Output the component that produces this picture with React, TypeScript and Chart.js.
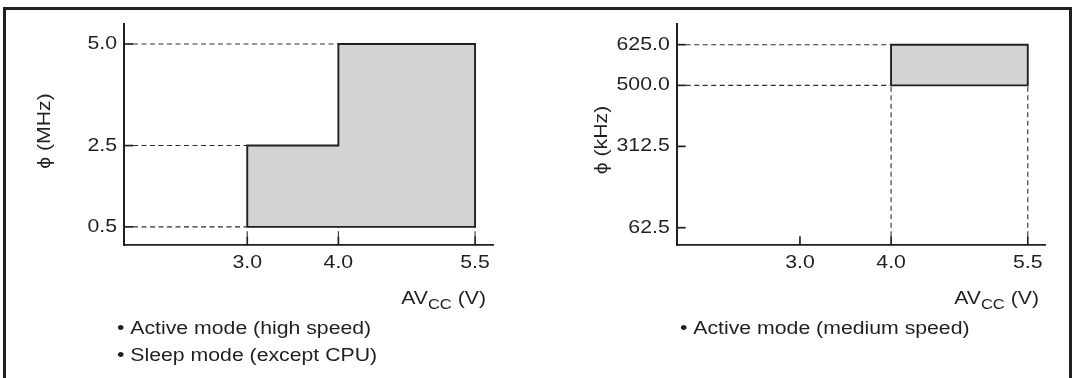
import React, { useEffect, useRef } from 'react';
import { Chart, registerables } from 'chart.js';

Chart.register(...registerables);

// ---- data ----
const voltageTicks = [3.0, 4.0, 5.5];
const highSpeedFreqTicks = [0.5, 2.5, 5.0];
const highSpeedVoltage = [3.0, 3.0, 4.0, 4.0, 5.5, 5.5, 3.0];
const highSpeedFreq = [0.5, 2.5, 2.5, 5.0, 5.0, 0.5, 0.5];
const mediumSpeedFreqTicks = [62.5, 312.5, 500.0, 625.0];
const mediumSpeedVoltage = [4.0, 4.0, 5.5, 5.5, 4.0];
const mediumSpeedFreq = [500.0, 625.0, 625.0, 500.0, 500.0];
const highSpeedNotes = ['Active mode (high speed)', 'Sleep mode (except CPU)'];
const mediumSpeedNotes = ['Active mode (medium speed)'];

// ---- style ----
const INK = '#231f20';
const GUIDE = '#2e2e2e';
const FILL = '#d1d3d4';
const FONT = "'Liberation Sans', Arial, Helvetica, sans-serif";
const FONT_SIZE = 18;
const SUB_SIZE = 14;
const STRETCH = 1.18;
const W = 1075;
const H = 378;

type PanelSpec = {
  left: number;
  width: number;
  voltage: number[];
  freq: number[];
  xTicks: number[];
  yTicks: number[];
  xMin: number;
  xMax: number;
  yMin: number;
  yMax: number;
  yAxisWidth: number;
  padRight: number;
  padTop: number;
  plotBottom: number;
  yTitle: string;
  yTitleX: number;
  yTitleY: number;
  xTitleRight: number;
  xTitleBaseline: number;
  notes: string[];
  notesX: number;
  notesBaselines: number[];
};

const stretchTextPlugin = {
  id: 'stretchText',
  beforeInit(chart: any) {
    const ctx = chart.ctx as any;
    if (ctx.__stretched) return;
    ctx.__stretched = true;
    const orig = ctx.fillText.bind(ctx);
    ctx.fillText = (text: string, x: number, y: number, maxWidth?: number) => {
      ctx.save();
      ctx.translate(x, y);
      ctx.scale(STRETCH, 1);
      if (maxWidth === undefined || maxWidth === null) orig(text, 0, 0);
      else orig(text, 0, 0, maxWidth / STRETCH);
      ctx.restore();
    };
  },
};

function makeGuides(spec: PanelSpec) {
  return {
    id: 'guides',
    beforeDatasetsDraw(chart: any) {
      const { ctx, chartArea: a } = chart;
      const xs = chart.scales.x;
      const ys = chart.scales.y;
      const seg = (x1: number, y1: number, x2: number, y2: number) => {
        ctx.beginPath();
        ctx.moveTo(x1, y1);
        ctx.lineTo(x2, y2);
        ctx.stroke();
      };
      const TICK = 9;
      ctx.save();
      // y ticks + horizontal guides
      spec.yTicks.forEach((v) => {
        const py = ys.getPixelForValue(v);
        ctx.setLineDash([]);
        ctx.lineWidth = 1.7;
        ctx.strokeStyle = INK;
        seg(a.left, py, a.left + TICK, py);
        const hits = spec.voltage.filter((_, i) => spec.freq[i] === v);
        if (hits.length) {
          const px = xs.getPixelForValue(Math.min(...hits));
          ctx.setLineDash([5, 3.5]);
          ctx.lineWidth = 1.1;
          ctx.strokeStyle = GUIDE;
          seg(a.left + TICK, py, px, py);
        }
      });
      // x ticks + vertical guides
      const vMin = Math.min(...spec.voltage);
      const vMax = Math.max(...spec.voltage);
      const fMin = Math.min(...spec.freq);
      spec.xTicks.forEach((v) => {
        const px = xs.getPixelForValue(v);
        ctx.setLineDash([]);
        ctx.lineWidth = 1.7;
        ctx.strokeStyle = INK;
        seg(px, a.bottom, px, a.bottom - TICK);
        if (v >= vMin && v <= vMax) {
          ctx.setLineDash([5, 3.5]);
          ctx.lineWidth = 1.1;
          ctx.strokeStyle = GUIDE;
          seg(px, a.bottom - TICK, px, ys.getPixelForValue(fMin));
        }
      });
      ctx.restore();
    },
  };
}

function makeAnnotations(spec: PanelSpec) {
  return {
    id: 'annotations',
    afterDraw(chart: any) {
      const ctx = chart.ctx;
      ctx.save();
      ctx.fillStyle = INK;
      // y title (rotated)
      ctx.save();
      ctx.font = `${FONT_SIZE}px ${FONT}`;
      ctx.translate(spec.yTitleX, spec.yTitleY);
      ctx.rotate(-Math.PI / 2);
      ctx.textAlign = 'center';
      ctx.textBaseline = 'middle';
      ctx.fillText(spec.yTitle, 0, 0);
      ctx.restore();
      // x title with subscript
      const parts: [string, number, number][] = [
        ['AV', FONT_SIZE, 0],
        ['CC', SUB_SIZE, 5],
        [' (V)', FONT_SIZE, 0],
      ];
      ctx.textAlign = 'left';
      ctx.textBaseline = 'alphabetic';
      const widths = parts.map(([t, s]) => {
        ctx.font = `${s}px ${FONT}`;
        return ctx.measureText(t).width * STRETCH;
      });
      let x = spec.xTitleRight - widths.reduce((p, c) => p + c, 0);
      parts.forEach(([t, s, dy], i) => {
        ctx.font = `${s}px ${FONT}`;
        ctx.fillText(t, x, spec.xTitleBaseline + dy);
        x += widths[i];
      });
      // notes
      ctx.font = `${FONT_SIZE}px ${FONT}`;
      spec.notes.forEach((n, i) => {
        ctx.fillText('\u2022 ' + n, spec.notesX, spec.notesBaselines[i]);
      });
      ctx.restore();
    },
  };
}

const tickFont = { family: FONT, size: FONT_SIZE };

function Panel({ spec }: { spec: PanelSpec }) {
  const ref = useRef<HTMLCanvasElement>(null);
  useEffect(() => {
    const canvas = ref.current;
    if (!canvas) return;
    const xAxisHeight = 34;
    const chart = new Chart(canvas, {
      type: 'scatter',
      data: {
        datasets: [
          {
            data: spec.voltage.map((v, i) => ({ x: v, y: spec.freq[i] })),
            showLine: true,
            fill: 'shape',
            backgroundColor: FILL,
            borderColor: INK,
            borderWidth: 1.9,
            borderJoinStyle: 'miter',
            pointRadius: 0,
            pointHoverRadius: 0,
            tension: 0,
          } as any,
        ],
      },
      options: {
        animation: false,
        responsive: false,
        events: [],
        layout: {
          padding: {
            left: 0,
            top: spec.padTop,
            right: spec.padRight,
            bottom: H - spec.plotBottom - xAxisHeight,
          },
        },
        plugins: {
          legend: { display: false },
          tooltip: { enabled: false },
        },
        scales: {
          x: {
            type: 'linear',
            position: 'bottom',
            min: spec.xMin,
            max: spec.xMax,
            afterBuildTicks: (s: any) => {
              s.ticks = spec.xTicks.map((v) => ({ value: v }));
            },
            afterFit: (s: any) => {
              s.height = xAxisHeight;
            },
            grid: { display: false, drawTicks: false },
            border: { display: true, color: INK, width: 1.8 },
            ticks: {
              padding: 7,
              color: INK,
              font: tickFont,
              maxRotation: 0,
              autoSkip: false,
              callback: (v: any) => Number(v).toFixed(1),
            },
          },
          y: {
            type: 'linear',
            min: spec.yMin,
            max: spec.yMax,
            afterBuildTicks: (s: any) => {
              s.ticks = spec.yTicks.map((v) => ({ value: v }));
            },
            afterFit: (s: any) => {
              s.width = spec.yAxisWidth;
            },
            grid: { display: false, drawTicks: false },
            border: { display: true, color: INK, width: 2 },
            ticks: {
              padding: 7,
              color: INK,
              font: tickFont,
              autoSkip: false,
              callback: (v: any) => Number(v).toFixed(1),
            },
          },
        },
      } as any,
      plugins: [stretchTextPlugin, makeGuides(spec), makeAnnotations(spec)] as any,
    });
    return () => chart.destroy();
  }, [spec]);
  return (
    <canvas
      ref={ref}
      width={spec.width}
      height={H}
      style={{ position: 'absolute', left: spec.left, top: 0, width: spec.width, height: H }}
    />
  );
}

const leftSpec: PanelSpec = {
  left: 0,
  width: 537,
  voltage: highSpeedVoltage,
  freq: highSpeedFreq,
  xTicks: voltageTicks,
  yTicks: highSpeedFreqTicks,
  xMin: 1.6475,
  xMax: 5.7,
  yMin: 0.0455,
  yMax: 5.492,
  yAxisWidth: 124,
  padRight: 537 - 493.3,
  padTop: 24,
  plotBottom: 245.3,
  yTitle: '\u03D5 (MHz)',
  yTitleX: 45,
  yTitleY: 131,
  xTitleRight: 486,
  xTitleBaseline: 304,
  notes: highSpeedNotes,
  notesX: 117,
  notesBaselines: [334, 361],
};

const rightSpec: PanelSpec = {
  left: 537,
  width: 538,
  voltage: mediumSpeedVoltage,
  freq: mediumSpeedFreq,
  xTicks: voltageTicks,
  yTicks: mediumSpeedFreqTicks,
  xMin: 1.6475,
  xMax: 5.689,
  yMin: 8.4,
  yMax: 688.6,
  yAxisWidth: 676.7 - 537,
  padRight: 538 - (1045 - 537),
  padTop: 24,
  plotBottom: 245.3,
  yTitle: '\u03D5 (kHz)',
  yTitleX: 602 - 537,
  yTitleY: 140,
  xTitleRight: 1039 - 537,
  xTitleBaseline: 304,
  notes: mediumSpeedNotes,
  notesX: 680 - 537,
  notesBaselines: [334],
};

export default function App() {
  return (
    <div
      style={{
        position: 'absolute',
        left: 0,
        top: 0,
        width: W,
        height: H,
        overflow: 'hidden',
        background: '#ffffff',
      }}
    >
      <Panel spec={leftSpec} />
      <Panel spec={rightSpec} />
      <div
        style={{
          position: 'absolute',
          left: 3,
          top: 7,
          width: 1069,
          height: 400,
          boxSizing: 'border-box',
          borderLeft: `3px solid ${INK}`,
          borderTop: `3px solid ${INK}`,
          borderRight: `3px solid ${INK}`,
          pointerEvents: 'none',
        }}
      />
    </div>
  );
}
